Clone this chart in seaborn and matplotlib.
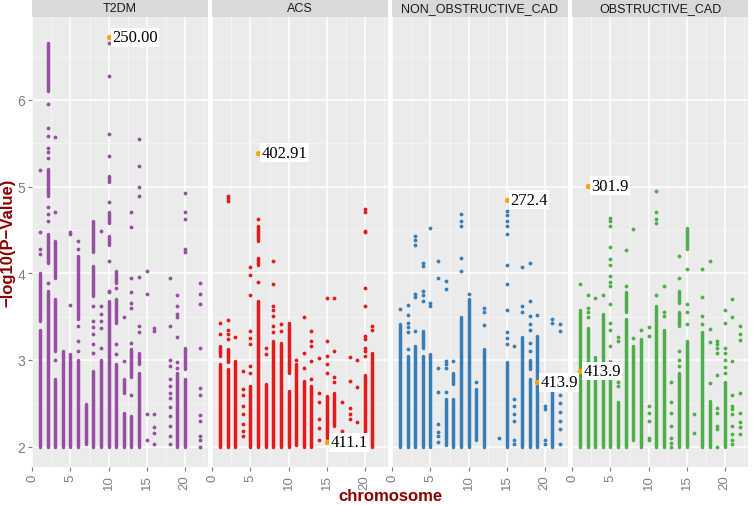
import pandas as pd
import seaborn as sns
import matplotlib.pyplot as plt

# -----------------------
# Data
# -----------------------

traits = ["T2DM", "ACS", "NON_OBSTRUCTIVE_CAD", "OBSTRUCTIVE_CAD"]
colors = ["#984EA3", "#E41A1C", "#377EB8", "#4DAF4A"]

# dense columns of SNPs: chromosome -> list of (low, high) -log10(p)
t2dm_runs = {
    1: [(2, 3.35), (3.45, 4.0)], 2: [(2, 3.8), (4.12, 4.45), (4.89, 5.2), (6.1, 6.66)],
    3: [(2, 2.78), (3.1, 3.7), (3.95, 4.37)], 4: [(2, 3.1)], 5: [(2, 3.07)],
    6: [(2, 3.0), (3.47, 4.2)], 7: [(2.03, 2.49)], 8: [(2, 2.87), (3.74, 4.08), (4.24, 4.6)],
    9: [(2, 3.0)], 10: [(2, 3.68), (4.32, 4.43), (4.58, 4.71), (5.05, 5.12)],
    11: [(2, 2.95), (3.43, 3.7), (3.89, 4.02)], 12: [(2, 2.39), (2.62, 2.78)],
    13: [(2, 2.35), (2.8, 3.12)], 14: [(2, 2.85), (2.95, 3.08)], 19: [(2, 2.85)],
    20: [(2, 2.78), (2.89, 3.14)],
}
acs_runs = {
    1: [(2, 2.95), (3.05, 3.16)], 2: [(2, 2.9), (2.97, 3.12)], 3: [(2, 2.99)], 5: [(2, 2.7)],
    6: [(2, 3.68), (4.1, 4.18), (4.37, 4.55)], 7: [(2, 2.72)], 8: [(2, 3.22)], 9: [(2, 3.2)],
    10: [(2, 2.64), (2.85, 3.43)], 11: [(2.02, 2.95)], 12: [(2, 2.76)], 13: [(2, 2.7)],
    15: [(2.1, 2.58)], 16: [(2.24, 2.62)], 20: [(2, 2.83)], 21: [(2, 3.08)],
}
non_obs_runs = {
    1: [(2, 3.41)], 2: [(2, 3.05)], 3: [(2, 3.16)], 4: [(2, 3.05), (3.14, 3.33)], 5: [(2, 3.07)],
    7: [(2.02, 2.55)], 8: [(2, 2.55), (2.72, 2.85)], 9: [(2, 3.49)], 10: [(2, 3.7)],
    11: [(2.07, 2.66)], 12: [(2, 3.12)], 15: [(2, 2.97)], 17: [(2, 3.26)],
    18: [(2, 2.78), (2.89, 3.0)], 19: [(2, 3.28)], 21: [(2.0, 2.68)],
}
obs_runs = {
    1: [(2, 3.58)], 2: [(2, 3.37)], 3: [(2, 3.03)], 4: [(2, 3.53)], 5: [(2, 2.99)],
    6: [(2.0, 2.51)], 7: [(2, 3.47), (3.55, 3.78)], 8: [(2.07, 3.16)], 9: [(2, 3.24)],
    11: [(2, 3.62)], 12: [(2, 3.35)], 14: [(2, 2.85), (3.39, 3.55), (3.66, 3.8)],
    15: [(2, 3.22), (4.28, 4.52)], 17: [(2.0, 3.32)], 18: [(2, 2.53)], 20: [(2, 2.74)],
}

# single SNPs: chromosome -> list of -log10(p)
t2dm_points = {
    1: [4.22, 4.28, 4.47, 5.19], 2: [3.89, 4.6, 4.68, 4.76, 5.33, 5.4, 5.45, 5.58, 5.68, 5.95],
    3: [3.0, 4.71, 5.57], 5: [3.63, 4.45, 4.47], 6: [3.1, 3.22, 3.39, 4.28, 4.37],
    8: [3.08, 3.18, 3.3, 3.38, 3.45, 3.62], 9: [3.14, 3.37, 3.45, 3.53, 3.62, 4.49],
    10: [3.78, 3.8, 4.14, 4.82, 5.35, 5.61, 6.28, 6.66], 11: [3.07, 3.18, 3.83],
    12: [2.99, 3.49], 13: [2.6, 3.2, 3.6, 3.66, 3.78, 3.95, 4.53, 4.71],
    14: [3.32, 3.39, 3.96, 4.89, 4.99, 5.24, 5.55], 15: [2.08, 2.37, 3.76, 4.03],
    16: [2.03, 2.16, 2.22, 2.37, 3.33, 3.37],
    18: [2.03, 2.12, 2.24, 2.35, 2.46, 2.56, 2.62, 2.7, 2.78, 2.93, 3.0, 3.39, 3.94],
    19: [2.91, 2.97, 3.26, 3.5, 3.53, 3.62, 3.75], 20: [4.24, 4.28, 4.63, 4.71, 4.93],
    22: [2.0, 2.07, 2.12, 2.3, 2.36, 2.6, 2.67, 3.14, 3.65, 3.76, 3.89],
}
acs_points = {
    1: [3.3, 3.43], 2: [3.24, 3.3, 3.35, 3.46, 4.83, 4.87, 4.89], 3: [3.26],
    4: [2.12, 2.18, 2.26, 2.37, 2.47, 2.6, 2.66, 2.87],
    5: [2.85, 2.93, 3.18, 3.25, 3.33, 3.75, 3.98, 4.07], 6: [3.9, 4.63], 7: [3.07, 3.14],
    8: [3.32, 3.39, 3.51, 3.58, 3.62, 3.87, 4.14], 9: [3.33, 3.41], 11: [3.0],
    12: [2.91, 3.08, 3.5], 13: [2.78, 2.99, 3.16, 3.22, 3.33],
    14: [2.08, 2.21, 2.32, 2.51, 2.62, 3.02], 15: [2.85, 2.95, 3.05, 3.22, 3.71],
    16: [2.74, 2.8, 3.1, 3.71], 17: [2.18, 2.51], 18: [2.32, 2.38, 2.45, 2.76, 3.03],
    19: [2.28, 2.69, 3.0], 20: [3.05, 3.1, 3.14, 3.24, 3.28, 3.62, 3.83, 4.47, 4.49, 4.71, 4.74],
    21: [3.35, 3.39],
}
non_obs_points = {
    1: [3.59], 2: [3.12, 3.32, 3.38, 3.43, 3.52, 3.63], 3: [3.33, 3.72, 3.76, 4.33, 4.38, 4.43],
    4: [3.68, 3.75, 3.8, 4.08, 4.12], 5: [3.62, 3.66, 4.52],
    6: [2.05, 2.12, 2.17, 2.26, 2.63, 2.91, 3.95, 4.14], 7: [2.63, 2.91, 2.95, 2.99, 3.82, 3.91],
    8: [2.99], 9: [4.03, 4.18, 4.55, 4.6, 4.68], 10: [3.76], 11: [2.74], 12: [3.4, 3.55, 3.6],
    14: [2.1], 15: [3.18, 3.25, 3.32, 3.58, 3.88, 4.1, 4.45, 4.55, 4.6, 4.67, 4.72],
    16: [2.03, 2.08, 2.3, 2.38, 2.47, 2.55, 3.16], 17: [3.55, 3.62, 4.07],
    18: [3.1, 3.2, 3.35, 3.41, 3.51, 3.68, 4.12], 19: [3.52], 20: [2.03, 2.08, 2.43, 2.47, 2.68],
    21: [3.43, 3.47], 22: [2.03, 2.2, 2.3, 2.4, 2.5, 2.6, 2.68, 3.33, 3.41],
}
obs_points = {
    1: [3.88], 2: [3.49, 3.55, 3.6, 3.75], 3: [3.71], 4: [3.75],
    5: [3.16, 3.35, 3.43, 3.64, 3.85, 3.9, 3.97, 4.1, 4.16, 4.3, 4.55, 4.6, 4.64],
    6: [2.7, 2.74, 3.22, 3.26], 7: [3.85, 4.27], 8: [3.25, 4.51], 9: [3.35],
    10: [2.07, 2.1, 2.3, 2.39, 2.47, 3.28, 3.38], 11: [3.75, 4.58, 4.63, 4.71, 4.95],
    12: [3.51, 3.55, 3.85], 13: [2.0, 2.04, 2.1, 2.24, 2.39, 2.51, 2.74],
    14: [2.93, 3.0, 3.1, 3.94, 4.2], 15: [3.41, 3.55, 3.64, 4.05], 16: [2.16, 2.38],
    17: [3.41, 3.51, 3.73, 4.05], 18: [2.73, 3.21, 3.36, 4.14],
    19: [2.0, 2.2, 2.24, 2.39, 2.45, 2.82, 3.08, 3.14, 3.18, 3.22],
    20: [2.85, 2.92, 3.0, 3.08, 3.14, 3.42, 3.57],
    21: [2.03, 2.08, 2.15, 2.24, 2.38, 2.43, 2.47, 2.6, 2.99, 3.49, 3.7],
    22: [2.14, 2.22, 2.28, 2.39, 2.62, 3.23, 3.3, 3.39],
}

# highlighted SNPs
hl_trait = ["T2DM", "ACS", "ACS", "NON_OBSTRUCTIVE_CAD", "NON_OBSTRUCTIVE_CAD",
            "OBSTRUCTIVE_CAD", "OBSTRUCTIVE_CAD"]
hl_chrom = [10, 6, 15, 15, 19, 1, 2]
hl_value = [6.72, 5.39, 2.05, 4.85, 2.74, 2.87, 5.01]
hl_label = ["250.00", "402.91", "411.1", "272.4", "413.9", "413.9", "301.9"]

all_runs = [t2dm_runs, acs_runs, non_obs_runs, obs_runs]
all_points = [t2dm_points, acs_points, non_obs_points, obs_points]

rows = []
for trait, pts in zip(traits, all_points):
    for chrom, vals in pts.items():
        for v in vals:
            rows.append((trait, chrom, v))
points = pd.DataFrame(rows, columns=["trait", "chromosome", "logp"])

rows = []
for trait, runs in zip(traits, all_runs):
    for chrom, segs in runs.items():
        for lo, hi in segs:
            rows.append((trait, chrom, lo, hi))
runs_df = pd.DataFrame(rows, columns=["trait", "chromosome", "lo", "hi"])

hl = pd.DataFrame({"trait": hl_trait, "chromosome": hl_chrom,
                   "logp": hl_value, "label": hl_label})

# -----------------------
# Plot
# -----------------------

sns.set_theme(style="darkgrid")
plt.rcParams["font.family"] = ["Liberation Sans", "DejaVu Sans"]

W, H = 753, 506
fig = plt.figure(figsize=(W / 100, H / 100), dpi=100)
fig.patch.set_facecolor("white")

lefts = [32, 212, 392, 572]
pw = 176
top, bottom = 18, 468
grey = "#7F7F7F"

for i, (trait, col) in enumerate(zip(traits, colors)):
    l = lefts[i]
    ax = fig.add_axes([l / W, (H - bottom) / H, pw / W, (bottom - top) / H])
    ax.set_facecolor("#EBEBEB")
    if trait == "NON_OBSTRUCTIVE_CAD":
        ax.set_zorder(3)

    r = runs_df[runs_df["trait"] == trait]
    ax.vlines(r["chromosome"], r["lo"], r["hi"], colors=col, linewidth=2.5,
              capstyle="round", zorder=2)
    sns.scatterplot(data=points[points["trait"] == trait], x="chromosome", y="logp",
                    color=col, s=7.5, linewidth=0, ax=ax, zorder=3)

    h = hl[hl["trait"] == trait]
    sns.scatterplot(data=h, x="chromosome", y="logp", color="#FFA500", s=15,
                    linewidth=0, ax=ax, zorder=4)
    for _, row in h.iterrows():
        ax.annotate(row["label"], (row["chromosome"], row["logp"]), xytext=(2.5, 0),
                    textcoords="offset points", ha="left", va="center",
                    fontsize=12, family="Liberation Serif", color="black", zorder=5,
                    bbox=dict(boxstyle="square,pad=0.08", fc="white", ec="none"))

    ax.set_xlim(-0.05, 23.05)
    ax.set_ylim(1.764, 6.956)
    ax.set_xticks([0, 5, 10, 15, 20])
    ax.set_xticks([2.5, 7.5, 12.5, 17.5, 22.5], minor=True)
    ax.set_yticks([2, 3, 4, 5, 6])
    ax.set_yticks([2.5, 3.5, 4.5, 5.5, 6.5], minor=True)
    ax.grid(which="major", color="white", linewidth=1.1)
    ax.grid(which="minor", color="#F7F7F7", linewidth=0.5)
    ax.set_axisbelow(True)
    for s in ax.spines.values():
        s.set_visible(False)
    ax.tick_params(which="minor", length=0)
    ax.tick_params(axis="x", which="major", length=3, width=0.8, color=grey,
                   labelcolor=grey, labelsize=9.5, labelrotation=90, pad=2, bottom=True)
    ax.tick_params(axis="y", which="major", length=3, width=0.8, color=grey,
                   labelcolor=grey, labelsize=10, pad=2, left=(i == 0), labelleft=(i == 0))
    ax.set_xlabel("")
    ax.set_ylabel("")

    # facet strip
    sax = fig.add_axes([l / W, (H - top) / H, pw / W, top / H])
    sax.set_facecolor("#D9D9D9")
    sax.set_xticks([])
    sax.set_yticks([])
    for s in sax.spines.values():
        s.set_visible(False)
    sax.text(0.5, 0.5, trait, ha="center", va="center", fontsize=9, color="#1A1A1A",
             transform=sax.transAxes)

fig.text(390 / W, 1 - 497 / H, "chromosome", ha="center", va="center",
         fontsize=12, fontweight="bold", color="#8B0000")
fig.text(8 / W, 1 - 243 / H, "\u2212log10(P\u2212Value)", ha="center", va="center",
         rotation=90, fontsize=12, fontweight="bold", color="#8B0000")

fig.savefig("out.png", dpi=100)
plt.close(fig)
